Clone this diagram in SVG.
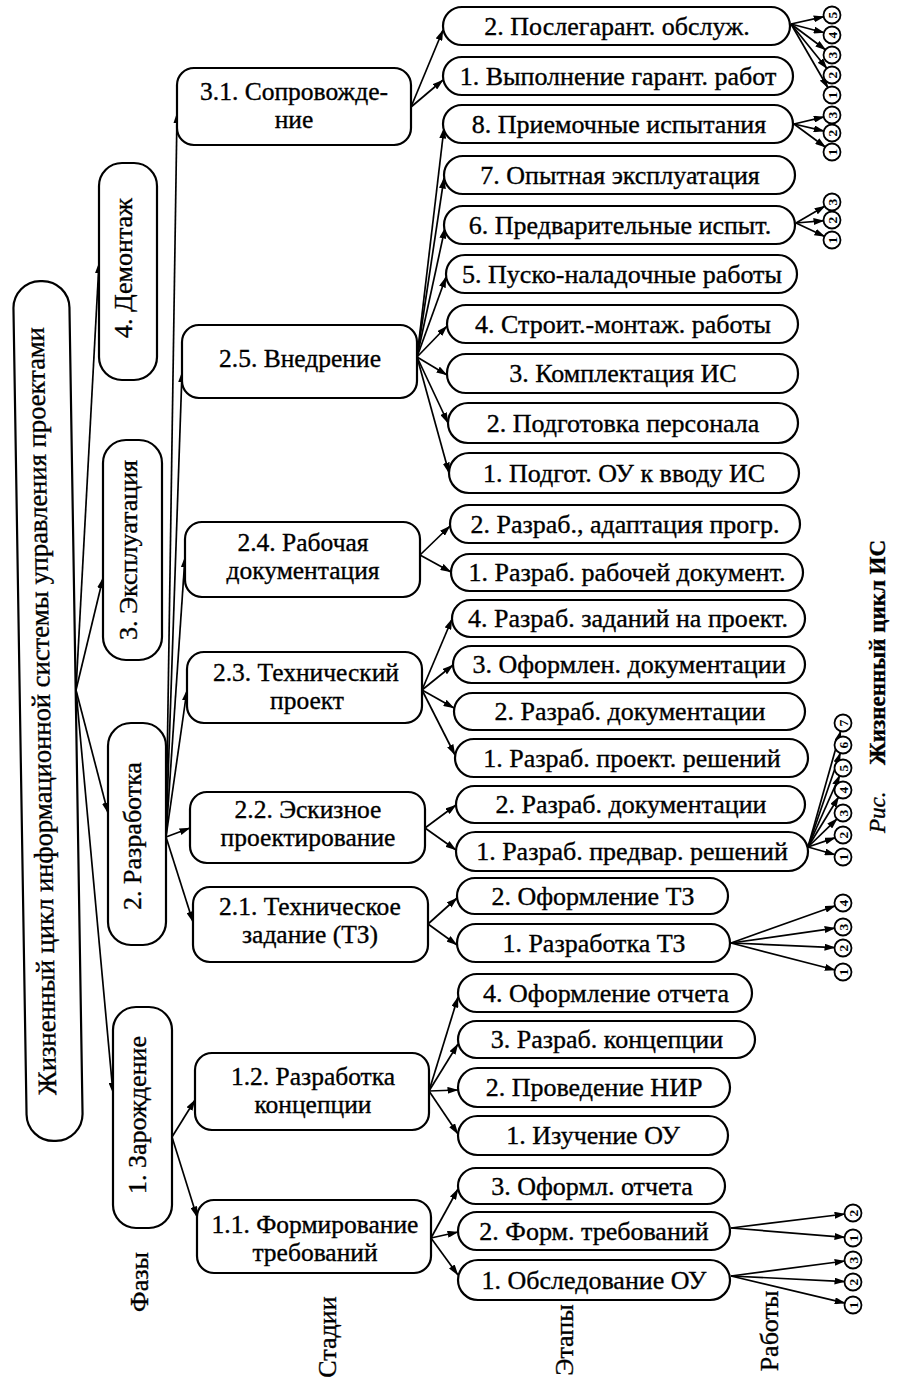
<svg xmlns="http://www.w3.org/2000/svg" width="902" height="1390" viewBox="0 0 902 1390">
<style>
.bx{fill:#fff;stroke:#000;stroke-width:2.2}
.t{font-family:'Liberation Serif','Times New Roman','DejaVu Serif',serif;font-size:26px;fill:#000;stroke:#000;stroke-width:0.35;text-anchor:middle}
.s{font-size:25.5px}
.r{font-size:26.6px}
.l{stroke:#000;stroke-width:1.7;fill:none;marker-end:url(#ah)}
.c{fill:#fff;stroke:#000;stroke-width:1.8}
.n{font-family:'Liberation Serif','Times New Roman','DejaVu Serif',serif;font-size:13.5px;font-weight:bold;fill:#000;text-anchor:middle}
</style>
<defs>
<marker id="ah" viewBox="0 0 11 7" refX="10.5" refY="3.5" markerWidth="11" markerHeight="7" markerUnits="userSpaceOnUse" orient="auto"><path d="M0,0 L11,3.5 L0,7 z" fill="#000"/></marker>
</defs>
<rect width="902" height="1390" fill="#fff"/>

<g id="connectors">
<line class="l" x1="76" y1="690" x2="99" y2="263"/>
<line class="l" x1="76" y1="690" x2="103" y2="578"/>
<line class="l" x1="76" y1="690" x2="108" y2="813"/>
<line class="l" x1="76" y1="690" x2="113" y2="1093"/>
<line class="l" x1="166" y1="837" x2="177" y2="113"/>
<line class="l" x1="166" y1="837" x2="182" y2="372"/>
<line class="l" x1="166" y1="837" x2="185" y2="557"/>
<line class="l" x1="166" y1="837" x2="187" y2="690"/>
<line class="l" x1="166" y1="837" x2="190" y2="828"/>
<line class="l" x1="166" y1="837" x2="193" y2="922"/>
<line class="l" x1="172" y1="1137" x2="195" y2="1100"/>
<line class="l" x1="172" y1="1137" x2="197" y2="1217"/>
<line class="l" x1="411" y1="107" x2="443" y2="30"/>
<line class="l" x1="411" y1="107" x2="443" y2="80"/>
<line class="l" x1="417" y1="357" x2="444" y2="128"/>
<line class="l" x1="417" y1="357" x2="444" y2="178"/>
<line class="l" x1="417" y1="357" x2="445" y2="228"/>
<line class="l" x1="417" y1="357" x2="446" y2="277"/>
<line class="l" x1="417" y1="357" x2="447" y2="326"/>
<line class="l" x1="417" y1="357" x2="447" y2="375"/>
<line class="l" x1="417" y1="357" x2="448" y2="423"/>
<line class="l" x1="417" y1="357" x2="449" y2="473"/>
<line class="l" x1="420" y1="555" x2="450" y2="526"/>
<line class="l" x1="420" y1="555" x2="451" y2="572"/>
<line class="l" x1="422" y1="690" x2="452" y2="619"/>
<line class="l" x1="422" y1="690" x2="453" y2="665"/>
<line class="l" x1="422" y1="690" x2="454" y2="708"/>
<line class="l" x1="422" y1="690" x2="455" y2="755"/>
<line class="l" x1="425" y1="828" x2="456" y2="805"/>
<line class="l" x1="425" y1="828" x2="456" y2="850"/>
<line class="l" x1="428" y1="924" x2="457" y2="898"/>
<line class="l" x1="428" y1="924" x2="457" y2="945"/>
<line class="l" x1="429" y1="1091" x2="458" y2="997"/>
<line class="l" x1="429" y1="1091" x2="458" y2="1044"/>
<line class="l" x1="429" y1="1091" x2="458" y2="1090"/>
<line class="l" x1="429" y1="1091" x2="458" y2="1134"/>
<line class="l" x1="431" y1="1238" x2="458" y2="1189"/>
<line class="l" x1="431" y1="1238" x2="458" y2="1232"/>
<line class="l" x1="431" y1="1238" x2="458" y2="1275"/>
<line class="l" x1="791" y1="24" x2="824.2" y2="16.6"/>
<line class="l" x1="791" y1="24" x2="824.3" y2="32.7"/>
<line class="l" x1="791" y1="24" x2="825.8" y2="50"/>
<line class="l" x1="791" y1="24" x2="827.1" y2="68.7"/>
<line class="l" x1="791" y1="24" x2="828.1" y2="88"/>
<line class="l" x1="794" y1="124" x2="824.2" y2="116.8"/>
<line class="l" x1="794" y1="124" x2="824.2" y2="131.2"/>
<line class="l" x1="794" y1="124" x2="825.6" y2="147.3"/>
<line class="l" x1="796" y1="223" x2="825.1" y2="206"/>
<line class="l" x1="796" y1="223" x2="824" y2="220.7"/>
<line class="l" x1="796" y1="223" x2="824.8" y2="236.6"/>
<line class="l" x1="808" y1="847" x2="840.8" y2="730.7"/>
<line class="l" x1="808" y1="847" x2="840.4" y2="752.6"/>
<line class="l" x1="808" y1="847" x2="839.8" y2="775.3"/>
<line class="l" x1="808" y1="847" x2="838.8" y2="796.8"/>
<line class="l" x1="808" y1="847" x2="837.3" y2="818.6"/>
<line class="l" x1="808" y1="847" x2="835.4" y2="837.6"/>
<line class="l" x1="808" y1="847" x2="835.3" y2="854.8"/>
<line class="l" x1="731" y1="943" x2="835.5" y2="905.7"/>
<line class="l" x1="731" y1="943" x2="835.1" y2="928.1"/>
<line class="l" x1="731" y1="943" x2="835" y2="947.6"/>
<line class="l" x1="731" y1="943" x2="835.3" y2="970"/>
<line class="l" x1="731" y1="1228" x2="845.1" y2="1214"/>
<line class="l" x1="731" y1="1228" x2="845" y2="1237.3"/>
<line class="l" x1="731" y1="1276" x2="845.1" y2="1261"/>
<line class="l" x1="731" y1="1276" x2="845" y2="1281.6"/>
<line class="l" x1="731" y1="1276" x2="845.2" y2="1303.2"/>
</g>

<g id="root" transform="rotate(-0.93 48 711)">
<rect class="bx" x="20" y="281" width="56" height="860" rx="27"/>
<text class="t r" transform="translate(50 711) rotate(-90)">Жизненный цикл информационной системы управления проектами</text>
</g>

<g id="phase-4"><rect class="bx" x="99" y="163" width="58" height="217" rx="23"/><text class="t" transform="translate(132 268) rotate(-90)">4. Демонтаж</text></g>
<g id="phase-3"><rect class="bx" x="103" y="440" width="59" height="220" rx="23"/><text class="t" transform="translate(137 550) rotate(-90)">3. Эксплуатация</text></g>
<g id="phase-2"><rect class="bx" x="108" y="723" width="58" height="222" rx="23"/><text class="t" transform="translate(141 836) rotate(-90)">2. Разработка</text></g>
<g id="phase-1"><rect class="bx" x="113" y="1007" width="59" height="221" rx="23"/><text class="t" transform="translate(146 1115) rotate(-90)">1. Зарождение</text></g>

<g id="stage-3-1"><rect class="bx" x="177" y="68" width="234" height="77" rx="17"/><text class="t s" x="294" y="100">3.1. Сопровожде-</text><text class="t s" x="294" y="128">ние</text></g>
<g id="stage-2-5"><rect class="bx" x="182" y="325" width="235" height="73" rx="17"/><text class="t s" x="300" y="367">2.5. Внедрение</text></g>
<g id="stage-2-4"><rect class="bx" x="185" y="522" width="235" height="75" rx="17"/><text class="t s" x="303" y="551">2.4. Рабочая</text><text class="t s" x="303" y="579">документация</text></g>
<g id="stage-2-3"><rect class="bx" x="187" y="652" width="235" height="71" rx="17"/><text class="t s" x="306" y="681">2.3. Технический</text><text class="t s" x="307" y="709">проект</text></g>
<g id="stage-2-2"><rect class="bx" x="190" y="792" width="235" height="71" rx="17"/><text class="t s" x="308" y="818">2.2. Эскизное</text><text class="t s" x="308" y="846">проектирование</text></g>
<g id="stage-2-1"><rect class="bx" x="193" y="887" width="235" height="75" rx="17"/><text class="t s" x="310" y="915">2.1. Техническое</text><text class="t s" x="310" y="943">задание (ТЗ)</text></g>
<g id="stage-1-2"><rect class="bx" x="195" y="1053" width="234" height="77" rx="17"/><text class="t s" x="313" y="1085">1.2. Разработка</text><text class="t s" x="313" y="1113">концепции</text></g>
<g id="stage-1-1"><rect class="bx" x="197" y="1200" width="234" height="73" rx="17"/><text class="t s" x="315" y="1233">1.1. Формирование</text><text class="t s" x="315" y="1261">требований</text></g>

<g id="e-3-1-2"><rect class="bx" x="443" y="7" width="347" height="38" rx="19"/><text class="t" x="617" y="35">2. Послегарант. обслуж.</text></g>
<g id="e-3-1-1"><rect class="bx" x="443" y="57" width="350" height="38" rx="19"/><text class="t" x="618" y="85">1. Выполнение гарант. работ</text></g>
<g id="e-2-5-8"><rect class="bx" x="443" y="105" width="350" height="38" rx="19"/><text class="t" x="619" y="133">8. Приемочные испытания</text></g>
<g id="e-2-5-7"><rect class="bx" x="444" y="156" width="351" height="38" rx="19"/><text class="t" x="620" y="184">7. Опытная эксплуатация</text></g>
<g id="e-2-5-6"><rect class="bx" x="444" y="206" width="351" height="38" rx="19"/><text class="t" x="620" y="234">6. Предварительные испыт.</text></g>
<g id="e-2-5-5"><rect class="bx" x="446" y="255" width="351" height="38" rx="19"/><text class="t" x="622" y="283">5. Пуско-наладочные работы</text></g>
<g id="e-2-5-4"><rect class="bx" x="447" y="305" width="351" height="38" rx="19"/><text class="t" x="623" y="333">4. Строит.-монтаж. работы</text></g>
<g id="e-2-5-3"><rect class="bx" x="447" y="354" width="351" height="39" rx="19"/><text class="t" x="623" y="382">3. Комплектация ИС</text></g>
<g id="e-2-5-2"><rect class="bx" x="448" y="403" width="350" height="40" rx="20"/><text class="t" x="623" y="432">2. Подготовка персонала</text></g>
<g id="e-2-5-1"><rect class="bx" x="449" y="453" width="350" height="40" rx="20"/><text class="t" x="624" y="482">1. Подгот. ОУ к вводу ИС</text></g>
<g id="e-2-4-2"><rect class="bx" x="450" y="505" width="350" height="38" rx="19"/><text class="t" x="625" y="533">2. Разраб., адаптация прогр.</text></g>
<g id="e-2-4-1"><rect class="bx" x="451" y="554" width="352" height="37" rx="18.5"/><text class="t" x="627" y="581">1. Разраб. рабочей документ.</text></g>
<g id="e-2-3-4"><rect class="bx" x="452" y="600" width="353" height="37" rx="18.5"/><text class="t" x="628" y="627">4. Разраб. заданий на проект.</text></g>
<g id="e-2-3-3"><rect class="bx" x="453" y="646" width="352" height="37" rx="18.5"/><text class="t" x="629" y="673">3. Оформлен. документации</text></g>
<g id="e-2-3-2"><rect class="bx" x="454" y="693" width="351" height="37" rx="18.5"/><text class="t" x="630" y="720">2. Разраб. документации</text></g>
<g id="e-2-3-1"><rect class="bx" x="455" y="739" width="353" height="38" rx="19"/><text class="t" x="632" y="767">1. Разраб. проект. решений</text></g>
<g id="e-2-2-2"><rect class="bx" x="456" y="786" width="349" height="37" rx="18.5"/><text class="t" x="631" y="813">2. Разраб. документации</text></g>
<g id="e-2-2-1"><rect class="bx" x="456" y="832" width="352" height="39" rx="19.5"/><text class="t" x="632" y="860">1. Разраб. предвар. решений</text></g>
<g id="e-2-1-2"><rect class="bx" x="457" y="878" width="271" height="36" rx="18"/><text class="t" x="593" y="905">2. Оформление ТЗ</text></g>
<g id="e-2-1-1"><rect class="bx" x="457" y="924" width="273" height="38" rx="19"/><text class="t" x="594" y="952">1. Разработка ТЗ</text></g>
<g id="e-1-2-4"><rect class="bx" x="458" y="974" width="294" height="38" rx="19"/><text class="t" x="606" y="1002">4. Оформление отчета</text></g>
<g id="e-1-2-3"><rect class="bx" x="458" y="1021" width="297" height="37" rx="18.5"/><text class="t" x="607" y="1048">3. Разраб. концепции</text></g>
<g id="e-1-2-2"><rect class="bx" x="458" y="1068" width="272" height="39" rx="19.5"/><text class="t" x="594" y="1096">2. Проведение НИР</text></g>
<g id="e-1-2-1"><rect class="bx" x="458" y="1116" width="270" height="39" rx="19.5"/><text class="t" x="593" y="1144">1. Изучение ОУ</text></g>
<g id="e-1-1-3"><rect class="bx" x="458" y="1168" width="267" height="36" rx="18"/><text class="t" x="592" y="1195">3. Оформл. отчета</text></g>
<g id="e-1-1-2"><rect class="bx" x="458" y="1212" width="272" height="38" rx="19"/><text class="t" x="594" y="1240">2. Форм. требований</text></g>
<g id="e-1-1-1"><rect class="bx" x="458" y="1260" width="272" height="40" rx="20"/><text class="t" x="594" y="1289">1. Обследование ОУ</text></g>

<g id="works">
<g id="w-a5"><circle class="c" cx="832" cy="15" r="8.5"/><text class="n" transform="translate(832 15) rotate(-90)" y="4.7">5</text></g>
<g id="w-a4"><circle class="c" cx="832" cy="35" r="8.5"/><text class="n" transform="translate(832 35) rotate(-90)" y="4.7">4</text></g>
<g id="w-a3"><circle class="c" cx="832" cy="55" r="8.5"/><text class="n" transform="translate(832 55) rotate(-90)" y="4.7">3</text></g>
<g id="w-a2"><circle class="c" cx="832" cy="75" r="8.5"/><text class="n" transform="translate(832 75) rotate(-90)" y="4.7">2</text></g>
<g id="w-a1"><circle class="c" cx="832" cy="95" r="8.5"/><text class="n" transform="translate(832 95) rotate(-90)" y="4.7">1</text></g>
<g id="w-b3"><circle class="c" cx="832" cy="115" r="8.5"/><text class="n" transform="translate(832 115) rotate(-90)" y="4.7">3</text></g>
<g id="w-b2"><circle class="c" cx="832" cy="133" r="8.5"/><text class="n" transform="translate(832 133) rotate(-90)" y="4.7">2</text></g>
<g id="w-b1"><circle class="c" cx="832" cy="152" r="8.5"/><text class="n" transform="translate(832 152) rotate(-90)" y="4.7">1</text></g>
<g id="w-c3"><circle class="c" cx="832" cy="202" r="8.5"/><text class="n" transform="translate(832 202) rotate(-90)" y="4.7">3</text></g>
<g id="w-c2"><circle class="c" cx="832" cy="220" r="8.5"/><text class="n" transform="translate(832 220) rotate(-90)" y="4.7">2</text></g>
<g id="w-c1"><circle class="c" cx="832" cy="240" r="8.5"/><text class="n" transform="translate(832 240) rotate(-90)" y="4.7">1</text></g>
<g id="w-d7"><circle class="c" cx="843" cy="723" r="8.5"/><text class="n" transform="translate(843 723) rotate(-90)" y="4.7">7</text></g>
<g id="w-d6"><circle class="c" cx="843" cy="745" r="8.5"/><text class="n" transform="translate(843 745) rotate(-90)" y="4.7">6</text></g>
<g id="w-d5"><circle class="c" cx="843" cy="768" r="8.5"/><text class="n" transform="translate(843 768) rotate(-90)" y="4.7">5</text></g>
<g id="w-d4"><circle class="c" cx="843" cy="790" r="8.5"/><text class="n" transform="translate(843 790) rotate(-90)" y="4.7">4</text></g>
<g id="w-d3"><circle class="c" cx="843" cy="813" r="8.5"/><text class="n" transform="translate(843 813) rotate(-90)" y="4.7">3</text></g>
<g id="w-d2"><circle class="c" cx="843" cy="835" r="8.5"/><text class="n" transform="translate(843 835) rotate(-90)" y="4.7">2</text></g>
<g id="w-d1"><circle class="c" cx="843" cy="857" r="8.5"/><text class="n" transform="translate(843 857) rotate(-90)" y="4.7">1</text></g>
<g id="w-e4"><circle class="c" cx="843" cy="903" r="8.5"/><text class="n" transform="translate(843 903) rotate(-90)" y="4.7">4</text></g>
<g id="w-e3"><circle class="c" cx="843" cy="927" r="8.5"/><text class="n" transform="translate(843 927) rotate(-90)" y="4.7">3</text></g>
<g id="w-e2"><circle class="c" cx="843" cy="948" r="8.5"/><text class="n" transform="translate(843 948) rotate(-90)" y="4.7">2</text></g>
<g id="w-e1"><circle class="c" cx="843" cy="972" r="8.5"/><text class="n" transform="translate(843 972) rotate(-90)" y="4.7">1</text></g>
<g id="w-f2"><circle class="c" cx="853" cy="1213" r="8.5"/><text class="n" transform="translate(853 1213) rotate(-90)" y="4.7">2</text></g>
<g id="w-f1"><circle class="c" cx="853" cy="1238" r="8.5"/><text class="n" transform="translate(853 1238) rotate(-90)" y="4.7">1</text></g>
<g id="w-g3"><circle class="c" cx="853" cy="1260" r="8.5"/><text class="n" transform="translate(853 1260) rotate(-90)" y="4.7">3</text></g>
<g id="w-g2"><circle class="c" cx="853" cy="1282" r="8.5"/><text class="n" transform="translate(853 1282) rotate(-90)" y="4.7">2</text></g>
<g id="w-g1"><circle class="c" cx="853" cy="1305" r="8.5"/><text class="n" transform="translate(853 1305) rotate(-90)" y="4.7">1</text></g>
</g>

<g id="labels">
<text class="t" transform="translate(148 1282) rotate(-90)">Фазы</text>
<text class="t" transform="translate(336 1337) rotate(-90)">Стадии</text>
<text class="t" transform="translate(573 1340) rotate(-90)">Этапы</text>
<text class="t" transform="translate(778 1331) rotate(-90)">Работы</text>
<text class="t" style="text-anchor:start;font-size:23px" transform="translate(885 833) rotate(-90)"><tspan font-style="italic">Рис.</tspan><tspan x="68" font-weight="bold">Жизненный цикл ИС</tspan></text>
</g>
</svg>
